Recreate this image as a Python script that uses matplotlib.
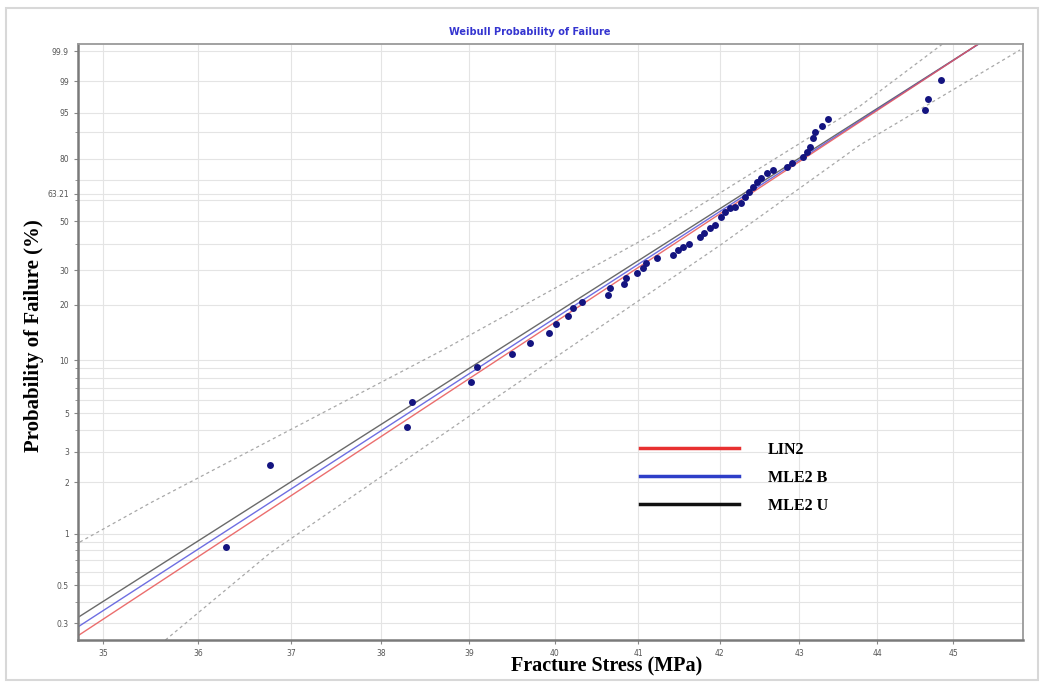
import numpy as np
import matplotlib
matplotlib.use("Agg")
import matplotlib.pyplot as plt
from matplotlib.lines import Line2D
from matplotlib.patches import Rectangle
from matplotlib.ticker import FixedLocator, FixedFormatter, NullLocator

# Fracture stress (MPa) and plotted probability of failure (%)
stress = [36.29, 36.77, 38.29, 38.35, 39.02, 39.09, 39.50, 39.71, 39.93, 40.02,
          40.16, 40.22, 40.32, 40.64, 40.66, 40.83, 40.85, 40.98, 41.06, 41.09,
          41.23, 41.42, 41.49, 41.55, 41.62, 41.76, 41.81, 41.88, 41.94, 42.01,
          42.07, 42.13, 42.19, 42.26, 42.32, 42.36, 42.42, 42.47, 42.51, 42.59,
          42.66, 42.84, 42.91, 43.05, 43.10, 43.14, 43.18, 43.20, 43.29, 43.37,
          44.63, 44.67, 44.84]
prob = [0.838, 2.52, 4.18, 5.81, 7.56, 9.18, 10.84, 12.51, 14.19, 15.76,
        17.53, 19.32, 20.78, 22.50, 24.35, 25.62, 27.35, 28.97, 30.65, 32.40,
        34.22, 35.47, 37.42, 38.74, 39.85, 42.94, 44.43, 46.67, 48.18, 52.07,
        54.48, 56.14, 56.92, 58.60, 61.87, 64.36, 66.84, 69.31, 70.97, 73.37,
        74.94, 76.47, 78.02, 80.92, 83.01, 85.00, 88.06, 90.21, 91.87, 93.59,
        95.57, 97.27, 99.07]

# fitted lines (straight on Weibull paper, so two end points each)
fit_x = [34.6, 45.4]
lin2_p = [0.2243, 99.9638]
mle2b_p = [0.2532, 99.9628]
mle2u_p = [0.2883, 99.9630]

# confidence bounds
upper_x = [34.76, 35.49, 38.70, 41.27, 43.78, 44.86]
upper_p = [0.897, 1.516, 11.41, 45.9, 96.27, 99.95]
lower_x = [35.65, 36.77, 39.36, 42.01, 43.78, 45.90]
lower_p = [0.239, 0.773, 6.38, 39.44, 85.64, 99.91]

x_ticks = [35, 36, 37, 38, 39, 40, 41, 42, 43, 44, 45]
y_ticks = [0.3, 0.5, 1, 2, 3, 5, 10, 20, 30, 50, 63.21, 80, 95, 99, 99.9]
y_labels = ["0.3", "0.5", "1", "2", "3", "5", "10", "20", "30", "50", "63.21",
            "80", "95", "99", "99.9"]
y_minor = [0.4, 0.6, 0.7, 0.8, 0.9, 4, 6, 7, 8, 9, 40, 60, 70, 90]


def weib_fwd(p):
    p = np.clip(np.asarray(p, dtype=float), 1e-6, 100 - 1e-9)
    return np.log(-np.log(1 - p / 100.0))


def weib_inv(w):
    return 100.0 * (1 - np.exp(-np.exp(w)))


fig = plt.figure(figsize=(10.44, 6.84), dpi=100)
fig.patches.append(Rectangle((0.006, 0.006), 0.988, 0.982, transform=fig.transFigure,
                             fill=False, edgecolor="#d8d8d8", lw=1.5))
ax = fig.add_axes([78 / 1044, 1 - 640 / 684, 945 / 1044, 596 / 684])

ax.set_xscale("log")
ax.set_yscale("function", functions=(weib_fwd, weib_inv))
ax.set_xlim(34.74, 45.94)
ax.set_ylim(0.239, 99.95)

# confidence bounds
ax.plot(upper_x, upper_p, color="#a8a8a8", lw=0.9, ls=(0, (2.5, 2.5)))
ax.plot(lower_x, lower_p, color="#a8a8a8", lw=0.9, ls=(0, (2.5, 2.5)))

# fit lines
ax.plot(fit_x, mle2u_p, color="#5a5a5a", lw=1.0, alpha=0.9)
ax.plot(fit_x, mle2b_p, color="#5555dd", lw=1.0, alpha=0.85)
ax.plot(fit_x, lin2_p, color="#e85555", lw=1.0, alpha=0.85)

# data points
ax.scatter(stress, prob, s=25, color="#141480", zorder=5, linewidths=0)

ax.xaxis.set_major_locator(FixedLocator(x_ticks))
ax.xaxis.set_major_formatter(FixedFormatter([str(v) for v in x_ticks]))
ax.xaxis.set_minor_locator(NullLocator())
ax.yaxis.set_major_locator(FixedLocator(y_ticks))
ax.yaxis.set_major_formatter(FixedFormatter(y_labels))
ax.yaxis.set_minor_locator(FixedLocator(y_minor))

ax.tick_params(which="major", labelsize=5.5, labelcolor="#555555", color="#888888",
               length=3, width=0.8, direction="out")
ax.tick_params(which="minor", color="#888888", length=2, width=0.6)
ax.grid(True, which="both", color="#e4e4e4", lw=0.8)
ax.set_axisbelow(True)

for side in ["left", "bottom"]:
    ax.spines[side].set_color("#7a7a7a")
    ax.spines[side].set_linewidth(1.8)
for side in ["top", "right"]:
    ax.spines[side].set_color("#9a9a9a")
    ax.spines[side].set_linewidth(1.3)

serif = ["Liberation Serif", "DejaVu Serif"]
ax.set_xlabel("Fracture Stress (MPa)", fontsize=14.5, fontweight="bold", family=serif)
ax.xaxis.set_label_coords((607 - 78) / 945, -0.028)
ax.set_ylabel("Probability of Failure (%)", fontsize=15, fontweight="bold", family=serif)
ax.yaxis.set_label_coords(-0.036, 0.51)

fig.text(530 / 1044, 1 - 32 / 684, "Weibull Probability of Failure", color="#3535d0",
         fontsize=7, fontweight="bold", ha="center", va="center")

handles = [Line2D([], [], color="#e83030", lw=2.5),
           Line2D([], [], color="#2e3ec8", lw=2.5),
           Line2D([], [], color="#111111", lw=2.5)]
ax.legend(handles, ["LIN2", "MLE2 B", "MLE2 U"], loc="upper left",
          bbox_to_anchor=((640 - 78) / 945, (640 - 442) / 596), frameon=False,
          prop={"family": serif, "weight": "bold", "size": 11.5},
          handlelength=6.2, handletextpad=1.8, labelspacing=0.75,
          borderpad=0, borderaxespad=0)

fig.savefig("out.png", dpi=100)
